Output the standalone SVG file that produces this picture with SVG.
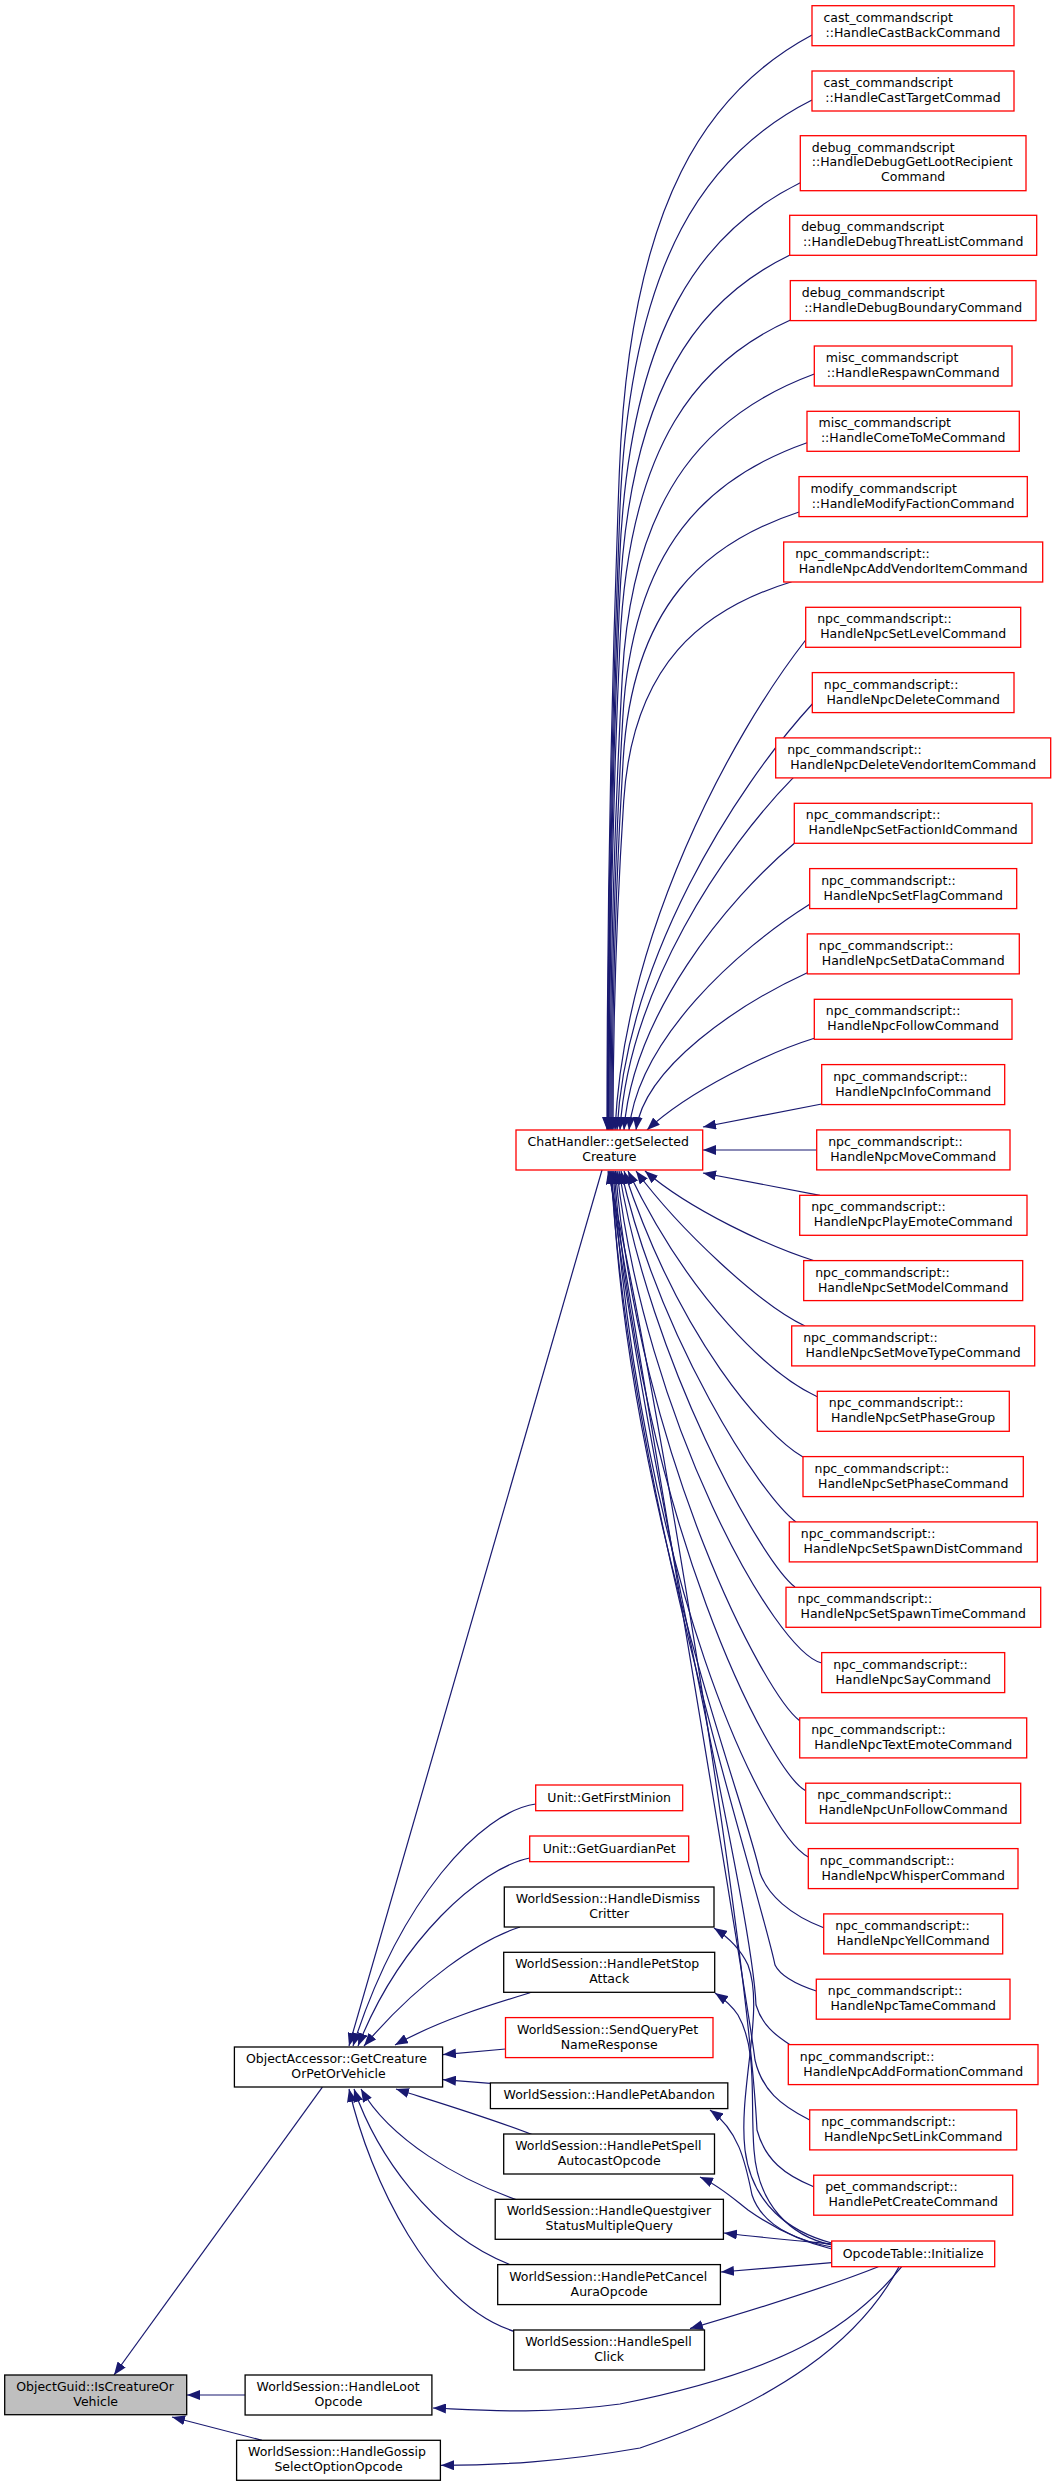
<svg xmlns="http://www.w3.org/2000/svg" width="1056" height="2487" viewBox="0 0 1056 2487">
<style>
rect{fill:#fff;stroke:#000;stroke-width:1.3}
.r rect{stroke:#f00}
.g rect{fill:#bfbfbf}
text{font-family:"DejaVu Sans","Liberation Sans",sans-serif;font-size:12.5px;fill:#000}
.c{text-anchor:middle}
#edges path{fill:none;stroke:#191970;stroke-width:1.2;marker-end:url(#a)}
</style>
<defs>
<marker id="a" markerWidth="13" markerHeight="10" refX="13" refY="5" orient="auto" markerUnits="userSpaceOnUse" viewBox="0 0 13 10"><path d="M0,0L13,5L0,10z" fill="#191970"/></marker>
</defs>
<rect x="0" y="0" width="1056" height="2487" style="fill:#fff;stroke:none"/>
<g id="edges">
<path d="M812,35 C709.5,89.8 629.6,199.3 619.3,473 C613.2,637.3 607,856.3 607,1130"/>
<path d="M812,100 C709.8,151.5 630,254.5 619.8,512 C613.6,666.5 607.5,872.5 607.5,1130"/>
<path d="M800.3,182.7 C704.2,230.1 629.2,324.8 619.5,561.6 C613.8,703.7 608,893.2 608,1130"/>
<path d="M790,255 C699.3,298.8 628.5,386.3 619.4,605 C613.9,736.3 608.5,911.3 608.5,1130"/>
<path d="M790.5,320 C699.8,360.5 629,441.5 619.9,644 C614.4,765.5 609,927.5 609,1130"/>
<path d="M814.3,374 C712.2,411.8 632.5,487.4 622.3,676.4 C616.1,789.8 610,941 610,1130"/>
<path d="M807,442.7 C709,477.1 632.6,545.8 622.8,717.6 C616.9,820.7 611,958.2 611,1130"/>
<path d="M799,512 C705.5,542.9 632.6,604.7 623.2,759.2 C617.6,851.9 612,975.5 612,1130"/>
<path d="M791.7,581.7 C702.4,609.1 632.7,663.9 623.7,801 C618.4,883.3 613,992.9 613,1130"/>
<path d="M805.7,640 C729.4,738 624.5,934 615,1130"/>
<path d="M812.3,704 C734.2,789.2 626.8,959.6 617,1130"/>
<path d="M793.3,777.7 C724,848.2 628.7,989.1 620,1130"/>
<path d="M795,842.7 C726.6,900.2 632.6,1015.1 624,1130"/>
<path d="M809.7,904.3 C737.4,949.4 638,1039.7 629,1130"/>
<path d="M807.3,972.7 C738.8,1004.2 644.6,1067.1 636,1130"/>
<path d="M814.3,1038.3 C770,1052 690,1090 647,1130"/>
<path d="M821.7,1104 L703,1127"/>
<path d="M816.7,1150 L703,1150"/>
<path d="M820,1195.3 L703,1173"/>
<path d="M815,1261 C770,1247 690,1210 645,1171"/>
<path d="M805,1326 C760,1305 680,1230 636,1171"/>
<path d="M817.3,1396.7 C770,1375 690,1300 628,1171"/>
<path d="M803,1457 C765,1435 680,1340 624,1171"/>
<path d="M796,1522 C760,1495 660,1340 621,1171"/>
<path d="M795,1587 C760,1560 650,1360 619,1171"/>
<path d="M821.7,1663 C775,1652 645,1420 617,1171"/>
<path d="M799.7,1720.7 C765,1695 640,1460 615.5,1171"/>
<path d="M805.7,1790.7 C770,1772 640,1520 614,1171"/>
<path d="M808.3,1857 C765,1835 640,1580 613,1171"/>
<path d="M823.7,1927.7 C790,1915 768,1895 760,1873 C745,1800 625,1500 612,1171"/>
<path d="M816.3,1991 C795,1984 780,1975 775,1965 C760,1890 630,1500 611,1171"/>
<path d="M790,2044.7 C775,2035 762,2025 756,2005 C752,1900 640,1450 610,1171"/>
<path d="M809.7,2120 C780,2105 762,2090 755,2060 C745,1980 650,1420 609,1171"/>
<path d="M813.7,2186.7 C785,2175 765,2160 757,2130 C748,1950 660,1400 608,1171"/>
<path d="M602,1170 L349,2046"/>
<path d="M535.7,1804 C480,1812 400,1900 353,2046"/>
<path d="M529.7,1858 C480,1868 400,1940 358,2046"/>
<path d="M520,1927 C480,1940 420,1980 364,2046"/>
<path d="M531.7,1992.3 C490,2005 440,2020 395,2045"/>
<path d="M505.5,2049 L443,2054.6"/>
<path d="M490.4,2083.4 L443,2079.7"/>
<path d="M533.3,2135 C490,2118 440,2103 396,2089"/>
<path d="M517.3,2200 C460,2180 390,2140 361,2089"/>
<path d="M513,2265.8 C430,2235 375,2150 354,2089"/>
<path d="M514.8,2331.6 C430,2305 370,2180 349,2089"/>
<path d="M322.4,2087.2 L114,2375"/>
<path d="M245.1,2395 L187,2395"/>
<path d="M262,2440.3 L172,2417"/>
<path d="M831.7,2243 C790,2232 752,2205 745,2150 C738,2090 765,2010 748,1965 C740,1948 728,1937 714,1928"/>
<path d="M831.7,2245 C790,2236 758,2205 754,2150 C750,2100 758,2050 738,2015 C732,2006 724,1999 715,1993"/>
<path d="M831.7,2247 C795,2240 762,2225 752,2195 C745,2160 738,2130 710,2110"/>
<path d="M831.7,2249 C795,2240 765,2222 748,2210 C735,2200 720,2186 700,2177"/>
<path d="M831.7,2244 C800,2241 765,2238 724,2233"/>
<path d="M831.7,2262.7 L721,2272"/>
<path d="M878.3,2266.7 C840,2282 770,2305 690,2328.6"/>
<path d="M901.7,2266.7 C850,2330 780,2372 620,2404 C540,2415 480,2410 433,2408"/>
<path d="M899,2266.7 C860,2340 780,2400 640,2448 C560,2462 500,2465 441,2465.3"/>
</g>
<g id="n0" class="r"><rect x="812" y="5.7" width="202" height="40"/><text x="823.5" y="21.7">cast_commandscript</text><text class="c" x="913" y="36.7">::HandleCastBackCommand</text></g>
<g id="n1" class="r"><rect x="812" y="71" width="202" height="40"/><text x="823.5" y="87">cast_commandscript</text><text class="c" x="913" y="102">::HandleCastTargetCommad</text></g>
<g id="n2" class="r"><rect x="800.3" y="135.7" width="225.7" height="55"/><text x="811.8" y="151.7">debug_commandscript</text><text x="811.8" y="166.2">::HandleDebugGetLootRecipient</text><text class="c" x="913.2" y="180.7">Command</text></g>
<g id="n3" class="r"><rect x="789.7" y="215.3" width="247" height="40"/><text x="801.2" y="231.3">debug_commandscript</text><text class="c" x="913.2" y="246.3">::HandleDebugThreatListCommand</text></g>
<g id="n4" class="r"><rect x="790.3" y="280.6" width="245.7" height="40"/><text x="801.8" y="296.6">debug_commandscript</text><text class="c" x="913.2" y="311.6">::HandleDebugBoundaryCommand</text></g>
<g id="n5" class="r"><rect x="814.3" y="346" width="197.7" height="40"/><text x="825.8" y="362">misc_commandscript</text><text class="c" x="913.2" y="377">::HandleRespawnCommand</text></g>
<g id="n6" class="r"><rect x="807" y="411.3" width="212.3" height="40"/><text x="818.5" y="427.3">misc_commandscript</text><text class="c" x="913.2" y="442.3">::HandleComeToMeCommand</text></g>
<g id="n7" class="r"><rect x="799" y="476.6" width="228.3" height="40"/><text x="810.5" y="492.6">modify_commandscript</text><text class="c" x="913.2" y="507.6">::HandleModifyFactionCommand</text></g>
<g id="n8" class="r"><rect x="783.7" y="542" width="259" height="40"/><text x="795.2" y="558">npc_commandscript::</text><text class="c" x="913.2" y="573">HandleNpcAddVendorItemCommand</text></g>
<g id="n9" class="r"><rect x="805.7" y="607.3" width="215" height="40"/><text x="817.2" y="623.3">npc_commandscript::</text><text class="c" x="913.2" y="638.3">HandleNpcSetLevelCommand</text></g>
<g id="n10" class="r"><rect x="812.3" y="672.6" width="201.7" height="40"/><text x="823.8" y="688.6">npc_commandscript::</text><text class="c" x="913.2" y="703.6">HandleNpcDeleteCommand</text></g>
<g id="n11" class="r"><rect x="775.7" y="737.9" width="275" height="40"/><text x="787.2" y="753.9">npc_commandscript::</text><text class="c" x="913.2" y="768.9">HandleNpcDeleteVendorItemCommand</text></g>
<g id="n12" class="r"><rect x="794.3" y="803.3" width="237.7" height="40"/><text x="805.8" y="819.3">npc_commandscript::</text><text class="c" x="913.2" y="834.3">HandleNpcSetFactionIdCommand</text></g>
<g id="n13" class="r"><rect x="809.7" y="868.6" width="207" height="40"/><text x="821.2" y="884.6">npc_commandscript::</text><text class="c" x="913.2" y="899.6">HandleNpcSetFlagCommand</text></g>
<g id="n14" class="r"><rect x="807.3" y="933.9" width="212" height="40"/><text x="818.8" y="949.9">npc_commandscript::</text><text class="c" x="913.2" y="964.9">HandleNpcSetDataCommand</text></g>
<g id="n15" class="r"><rect x="814.3" y="999.3" width="197.7" height="40"/><text x="825.8" y="1015.3">npc_commandscript::</text><text class="c" x="913.2" y="1030.3">HandleNpcFollowCommand</text></g>
<g id="n16" class="r"><rect x="821.7" y="1064.6" width="183" height="40"/><text x="833.2" y="1080.6">npc_commandscript::</text><text class="c" x="913.2" y="1095.6">HandleNpcInfoCommand</text></g>
<g id="n17" class="r"><rect x="816.7" y="1129.9" width="193.3" height="40"/><text x="828.2" y="1145.9">npc_commandscript::</text><text class="c" x="913.2" y="1160.9">HandleNpcMoveCommand</text></g>
<g id="n18" class="r"><rect x="799.7" y="1195.3" width="227.3" height="40"/><text x="811.2" y="1211.3">npc_commandscript::</text><text class="c" x="913.2" y="1226.3">HandleNpcPlayEmoteCommand</text></g>
<g id="n19" class="r"><rect x="803.7" y="1260.6" width="219" height="40"/><text x="815.2" y="1276.6">npc_commandscript::</text><text class="c" x="913.2" y="1291.6">HandleNpcSetModelCommand</text></g>
<g id="n20" class="r"><rect x="791.7" y="1325.9" width="243" height="40"/><text x="803.2" y="1341.9">npc_commandscript::</text><text class="c" x="913.2" y="1356.9">HandleNpcSetMoveTypeCommand</text></g>
<g id="n21" class="r"><rect x="817.3" y="1391.3" width="192" height="40"/><text x="828.8" y="1407.3">npc_commandscript::</text><text class="c" x="913.2" y="1422.3">HandleNpcSetPhaseGroup</text></g>
<g id="n22" class="r"><rect x="803" y="1456.6" width="220.3" height="40"/><text x="814.5" y="1472.6">npc_commandscript::</text><text class="c" x="913.2" y="1487.6">HandleNpcSetPhaseCommand</text></g>
<g id="n23" class="r"><rect x="789.3" y="1521.9" width="248" height="40"/><text x="800.8" y="1537.9">npc_commandscript::</text><text class="c" x="913.2" y="1552.9">HandleNpcSetSpawnDistCommand</text></g>
<g id="n24" class="r"><rect x="786" y="1587.3" width="254.7" height="40"/><text x="797.5" y="1603.3">npc_commandscript::</text><text class="c" x="913.2" y="1618.3">HandleNpcSetSpawnTimeCommand</text></g>
<g id="n25" class="r"><rect x="821.7" y="1652.6" width="183" height="40"/><text x="833.2" y="1668.6">npc_commandscript::</text><text class="c" x="913.2" y="1683.6">HandleNpcSayCommand</text></g>
<g id="n26" class="r"><rect x="799.7" y="1717.9" width="227" height="40"/><text x="811.2" y="1733.9">npc_commandscript::</text><text class="c" x="913.2" y="1748.9">HandleNpcTextEmoteCommand</text></g>
<g id="n27" class="r"><rect x="805.7" y="1783.2" width="215" height="40"/><text x="817.2" y="1799.2">npc_commandscript::</text><text class="c" x="913.2" y="1814.2">HandleNpcUnFollowCommand</text></g>
<g id="n28" class="r"><rect x="808.3" y="1848.6" width="209.7" height="40"/><text x="819.8" y="1864.6">npc_commandscript::</text><text class="c" x="913.2" y="1879.6">HandleNpcWhisperCommand</text></g>
<g id="n29" class="r"><rect x="823.7" y="1913.9" width="179" height="40"/><text x="835.2" y="1929.9">npc_commandscript::</text><text class="c" x="913.2" y="1944.9">HandleNpcYellCommand</text></g>
<g id="n30" class="r"><rect x="816.3" y="1979.2" width="193.7" height="40"/><text x="827.8" y="1995.2">npc_commandscript::</text><text class="c" x="913.2" y="2010.2">HandleNpcTameCommand</text></g>
<g id="n31" class="r"><rect x="788.3" y="2044.6" width="249.7" height="40"/><text x="799.8" y="2060.6">npc_commandscript::</text><text class="c" x="913.2" y="2075.6">HandleNpcAddFormationCommand</text></g>
<g id="n32" class="r"><rect x="809.7" y="2109.9" width="207" height="40"/><text x="821.2" y="2125.9">npc_commandscript::</text><text class="c" x="913.2" y="2140.9">HandleNpcSetLinkCommand</text></g>
<g id="n33" class="r"><rect x="813.7" y="2175.2" width="199" height="40"/><text x="825.2" y="2191.2">pet_commandscript::</text><text class="c" x="913.2" y="2206.2">HandlePetCreateCommand</text></g>
<g id="chat" class="r"><rect x="516" y="1130" width="186.7" height="40"/><text x="527.5" y="1146">ChatHandler::getSelected</text><text class="c" x="609.4" y="1161">Creature</text></g>
<g id="minion" class="r"><rect x="535.7" y="1785" width="147" height="25.7"/><text class="c" x="609.2" y="1801.5">Unit::GetFirstMinion</text></g>
<g id="guardian" class="r"><rect x="529.7" y="1836" width="159" height="25.7"/><text class="c" x="609.2" y="1852.5">Unit::GetGuardianPet</text></g>
<g id="dismiss"><rect x="504.3" y="1887" width="209.7" height="40"/><text x="515.8" y="1903">WorldSession::HandleDismiss</text><text class="c" x="609.2" y="1918">Critter</text></g>
<g id="petstop"><rect x="503.7" y="1952.3" width="211" height="40"/><text x="515.2" y="1968.3">WorldSession::HandlePetStop</text><text class="c" x="609.2" y="1983.3">Attack</text></g>
<g id="sendquery" class="r"><rect x="505.5" y="2017.6" width="207.5" height="40"/><text x="517" y="2033.6">WorldSession::SendQueryPet</text><text class="c" x="609.2" y="2048.6">NameResponse</text></g>
<g id="petabandon"><rect x="490.4" y="2082.9" width="237.4" height="25.7"/><text class="c" x="609.2" y="2099.4">WorldSession::HandlePetAbandon</text></g>
<g id="petspell"><rect x="503.7" y="2134" width="210.8" height="40"/><text x="515.2" y="2150">WorldSession::HandlePetSpell</text><text class="c" x="609.2" y="2165">AutocastOpcode</text></g>
<g id="quest"><rect x="495.2" y="2199.3" width="228.2" height="40"/><text x="506.7" y="2215.3">WorldSession::HandleQuestgiver</text><text class="c" x="609.2" y="2230.3">StatusMultipleQuery</text></g>
<g id="petcancel"><rect x="497.7" y="2264.6" width="222.7" height="40"/><text x="509.2" y="2280.6">WorldSession::HandlePetCancel</text><text class="c" x="609.2" y="2295.6">AuraOpcode</text></g>
<g id="spellclick"><rect x="513.7" y="2330" width="190.8" height="40"/><text x="525.2" y="2346">WorldSession::HandleSpell</text><text class="c" x="609.2" y="2361">Click</text></g>
<g id="opcode" class="r"><rect x="831.7" y="2241" width="163" height="25.7"/><text class="c" x="913.2" y="2257.5">OpcodeTable::Initialize</text></g>
<g id="accessor"><rect x="234.4" y="2047" width="208.2" height="40"/><text x="245.9" y="2063">ObjectAccessor::GetCreature</text><text class="c" x="338.5" y="2078">OrPetOrVehicle</text></g>
<g id="loot"><rect x="245.1" y="2375" width="186.8" height="40"/><text x="256.6" y="2391">WorldSession::HandleLoot</text><text class="c" x="338.5" y="2406">Opcode</text></g>
<g id="gossip"><rect x="236.6" y="2440.3" width="203.8" height="40"/><text x="248.1" y="2456.3">WorldSession::HandleGossip</text><text class="c" x="338.5" y="2471.3">SelectOptionOpcode</text></g>
<g id="guid" class="g"><rect x="4.7" y="2375" width="182" height="39.7"/><text x="16.2" y="2391">ObjectGuid::IsCreatureOr</text><text class="c" x="95.7" y="2406">Vehicle</text></g>
</svg>
